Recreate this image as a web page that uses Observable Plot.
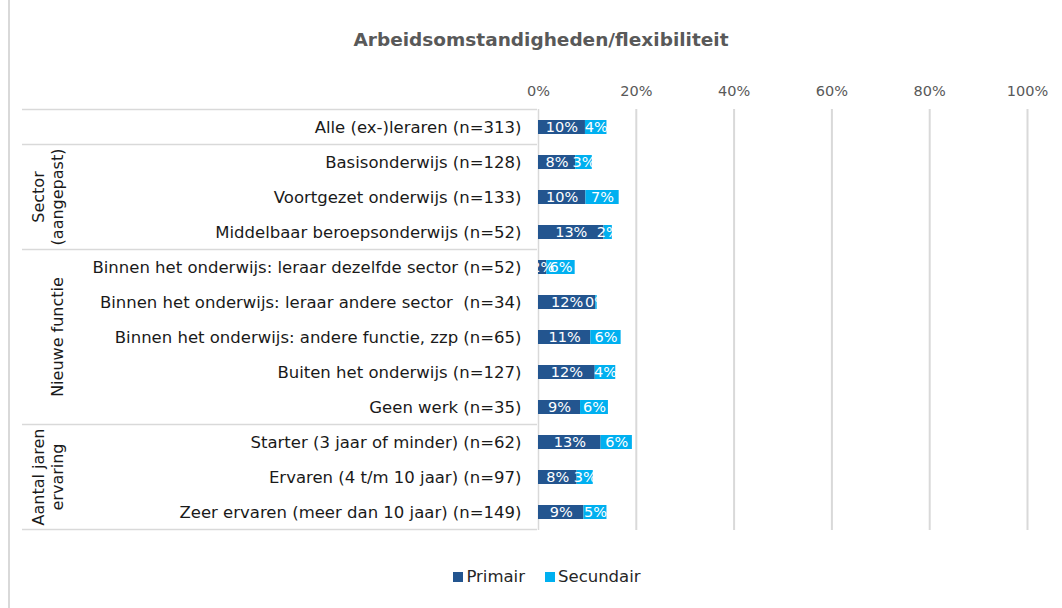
<!DOCTYPE html>
<html>
<head>
<meta charset="utf-8">
<script src="https://cdn.jsdelivr.net/npm/d3@7"></script>
<script src="https://cdn.jsdelivr.net/npm/@observablehq/plot@0.6"></script>
<style>
  html, body { margin: 0; padding: 0; background: #fff; }
  #wrap { position: relative; width: 1062px; height: 608px; overflow: hidden; font-family: "DejaVu Sans", sans-serif; }
  #border { position: absolute; left: 8px; top: -2px; width: 1060px; height: 612px; border: 2px solid #d9d9d9; box-sizing: border-box; }
  #title { position: absolute; left: 0; width: 1082px; top: 29px; text-align: center; font-size: 18.5px; font-weight: bold; color: #595959; }
  #chart { position: absolute; left: 0; top: 60px; }
  #chart svg text { white-space: pre; }
  #legend { position: absolute; left: 0; width: 1094px; top: 567px; display: flex; justify-content: center; gap: 20px; font-size: 16.5px; color: #262626; }
  #legend span.item { display: inline-flex; align-items: center; }
  #legend span.sw { display: inline-block; width: 10px; height: 10px; margin-right: 3px; }
</style>
</head>
<body>
<div id="wrap">
  <div id="border"></div>
  <div id="title">Arbeidsomstandigheden/flexibiliteit</div>
  <div id="chart"></div>
  <div id="legend"></div>
</div>
<script>
const categories = [
  "Alle (ex-)leraren (n=313)",
  "Basisonderwijs (n=128)",
  "Voortgezet onderwijs (n=133)",
  "Middelbaar beroepsonderwijs (n=52)",
  "Binnen het onderwijs: leraar dezelfde sector (n=52)",
  "Binnen het onderwijs: leraar andere sector  (n=34)",
  "Binnen het onderwijs: andere functie, zzp (n=65)",
  "Buiten het onderwijs (n=127)",
  "Geen werk (n=35)",
  "Starter (3 jaar of minder) (n=62)",
  "Ervaren (4 t/m 10 jaar) (n=97)",
  "Zeer ervaren (meer dan 10 jaar) (n=149)"
];
const primair   = [9.6, 7.6, 9.7, 13.4, 1.7, 11.7, 10.7, 11.6, 8.6, 12.8, 7.9, 9.3];
const secundair = [4.4, 3.4, 6.8, 1.7, 5.8, 0.3, 6.2, 4.2, 5.7, 6.4, 3.3, 4.7];
const seriesNames = ["Primair", "Secundair"];
const seriesColors = ["#23558F", "#00B0F0"];
const groups = [
  {lines: ["Sector", "(aangepast)"], first: 1, last: 3},
  {lines: ["Nieuwe functie"], first: 4, last: 8},
  {lines: ["Aantal jaren", "ervaring"], first: 9, last: 11}
];
const boundaries = [0, 1, 4, 9]; // row index where a block starts
const xTicks = [0, 20, 40, 60, 80, 100];

const data = [];
categories.forEach((c, i) => {
  data.push({cat: c, series: seriesNames[0], value: primair[i]});
  data.push({cat: c, series: seriesNames[1], value: secundair[i]});
});

const font = "DejaVu Sans, sans-serif";
const plot = Plot.plot({
  width: 1062,
  height: 490,
  marginTop: 49,
  marginBottom: 20,
  marginLeft: 538,
  marginRight: 35,
  style: {fontFamily: font, background: "transparent", overflow: "visible"},
  x: {domain: [0, 100], axis: null},
  y: {domain: categories, paddingInner: 0.6, paddingOuter: 0.3, axis: null},
  color: {domain: seriesNames, range: seriesColors},
  marks: [
    Plot.ruleX(xTicks.filter(d => d > 0), {stroke: "#d9d9d9", strokeWidth: 2}),
    Plot.ruleX([0], {stroke: "#d9d9d9", strokeWidth: 1.5}),
    Plot.barX(data, {y: "cat", x: "value", fill: "series"}),
    Plot.text(data, Plot.stackX({
      y: "cat", x: "value", z: "series",
      text: d => Math.round(d.value) + "%",
      fill: "white", fontSize: 14.5, clip: true
    })),
    Plot.axisX({anchor: "top", ticks: xTicks, tickFormat: d => d + "%", tickSize: 0, tickPadding: 14, fontSize: 14.5, color: "#595959", label: null}),
    Plot.axisY({anchor: "left", tickSize: 0, tickPadding: 17, fontSize: 16.5, color: "#1a1a1a", label: null})
  ]
});
document.getElementById("chart").appendChild(plot);

// table-like structure in the left margin, positioned from Plot's y scale
const ys = plot.scale("y");
const gap = (ys.step - ys.bandwidth) / 2;
const svg = d3.select(plot);
const g = svg.append("g");
const lineYs = boundaries.map(i => ys.apply(categories[i]) - gap);
lineYs.push(ys.apply(categories[categories.length - 1]) + ys.bandwidth + gap);
g.selectAll("line").data(lineYs).join("line")
  .attr("x1", 22).attr("x2", 537)
  .attr("y1", d => d).attr("y2", d => d)
  .attr("stroke", "#d9d9d9").attr("stroke-width", 1.5);

groups.forEach(gr => {
  const yc = (ys.apply(categories[gr.first]) + ys.apply(categories[gr.last])) / 2 + ys.bandwidth / 2;
  const xs = gr.lines.length === 2 ? [38, 57] : [57];
  gr.lines.forEach((t, k) => {
    g.append("text")
      .attr("transform", `translate(${xs[k]},${yc}) rotate(-90)`)
      .attr("text-anchor", "middle")
      .attr("dy", "0.35em")
      .attr("font-size", 16)
      .attr("font-family", font)
      .attr("fill", "#1a1a1a")
      .text(t);
  });
});

// legend
const legend = d3.select("#legend");
seriesNames.forEach((s, i) => {
  const it = legend.append("span").attr("class", "item");
  it.append("span").attr("class", "sw").style("background", seriesColors[i]);
  it.append("span").text(s);
});
</script>
</body>
</html>
